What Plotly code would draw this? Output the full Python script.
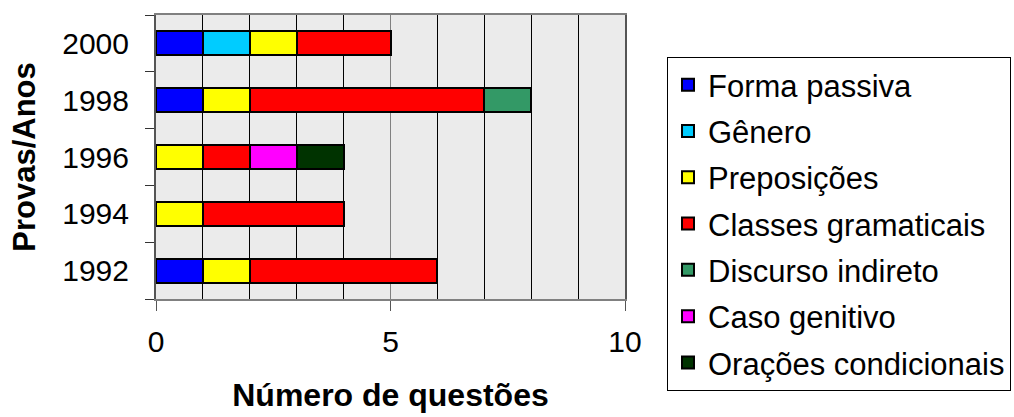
import plotly.graph_objects as go

years = ["1992", "1994", "1996", "1998", "2000"]
series_names = ["Forma passiva", "Gênero", "Preposições", "Classes gramaticais",
                "Discurso indireto", "Caso genitivo", "Orações condicionais"]
forma_passiva = [1, 0, 0, 1, 1]
genero = [0, 0, 0, 0, 1]
preposicoes = [1, 1, 1, 1, 1]
classes_gramaticais = [4, 3, 1, 5, 2]
discurso_indireto = [0, 0, 0, 1, 0]
caso_genitivo = [0, 0, 1, 0, 0]
oracoes_condicionais = [0, 0, 1, 0, 0]
series_values = [forma_passiva, genero, preposicoes, classes_gramaticais,
                 discurso_indireto, caso_genitivo, oracoes_condicionais]
colors = ["#0000FF", "#00CCFF", "#FFFF00", "#FF0000", "#339966", "#FF00FF", "#003300"]
x_ticks = [0, 5, 10]

FONT = "Liberation Sans, Arial, sans-serif"
W, H = 1014, 417
PL, PR, PT, PB = 156, 625, 15, 299  # plot area in pixels

fig = go.Figure()
for name, vals, col in zip(series_names, series_values, colors):
    ys = [y for y, v in zip(years, vals) if v > 0]
    xs = [v for v in vals if v > 0]
    fig.add_trace(go.Bar(
        y=ys, x=xs, name=name, orientation="h",
        marker=dict(color=col, line=dict(color="black", width=2)),
        width=0.42, legendgroup=name,
    ))

fig.update_layout(
    barmode="stack",
    width=W, height=H,
    margin=dict(l=PL, r=W - PR, t=0, b=0, autoexpand=False),
    paper_bgcolor="white",
    plot_bgcolor="#ebebeb",
    font=dict(family=FONT, size=30, color="black"),
    showlegend=True,
    legend=dict(
        x=(667 - PL) / (PR - PL), y=(H - 57) / H, xanchor="left", yanchor="top",
        bordercolor="black", borderwidth=1, bgcolor="white",
        font=dict(size=31, family=FONT),
        traceorder="grouped", tracegroupgap=3,
        itemclick=False,
    ),
    xaxis=dict(
        range=[0, 10], tickvals=x_ticks, ticktext=[str(t) for t in x_ticks],
        ticks="outside", ticklen=10, tickcolor="#555555", tickwidth=1,
        showgrid=True, gridcolor="#808080", gridwidth=1,
        minor=dict(dtick=1, showgrid=True, gridcolor="black", gridwidth=1, ticks=""),
        showline=True, linecolor="#808080", linewidth=2, mirror=True,
        zeroline=False, automargin=False,
        tickfont=dict(size=30),
        ticklabelstandoff=5,
        title=dict(text="<b>Número de questões</b>", font=dict(size=32), standoff=27),
        fixedrange=True,
    ),
    yaxis=dict(
        type="category", categoryorder="array", categoryarray=years,
        domain=[(H - PB) / H, (H - PT) / H],
        tickson="boundaries", ticks="outside", ticklen=9, tickcolor="#333333",
        showgrid=False,
        showline=True, linecolor="#555555", linewidth=2, mirror=True,
        automargin=False,
        tickfont=dict(size=30),
        ticklabelstandoff=19,
        title=dict(text="<b>Provas/Anos</b>", font=dict(size=31), standoff=17),
        fixedrange=True,
    ),
)

fig.write_html("out.html", config={"displayModeBar": False})
